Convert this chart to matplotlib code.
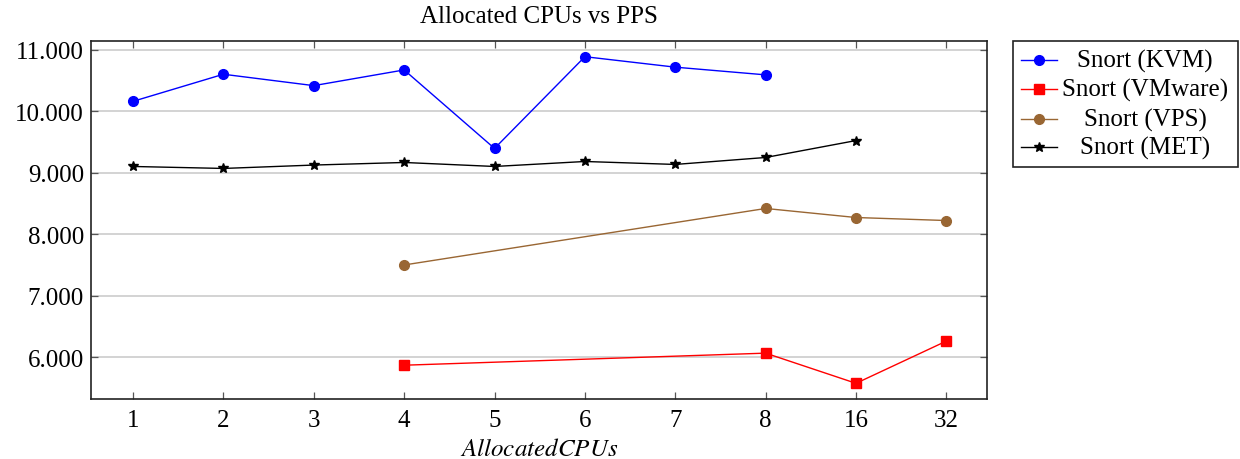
import matplotlib
matplotlib.use("Agg")
import matplotlib.pyplot as plt
from matplotlib.lines import Line2D
from matplotlib.patches import Rectangle
import numpy as np

# ---- data ----
cpu_labels = ["1", "2", "3", "4", "5", "6", "7", "8", "16", "32"]
kvm_x = ["1", "2", "3", "4", "5", "6", "7", "8"]
kvm_y = [10160, 10600, 10415, 10670, 9395, 10885, 10715, 10590]
vmware_x = ["4", "8", "16", "32"]
vmware_y = [5874, 6070, 5580, 6266]
vps_x = ["4", "8", "16", "32"]
vps_y = [7502, 8420, 8273, 8224]
met_x = ["1", "2", "3", "4", "5", "6", "7", "8", "16"]
met_y = [9102, 9070, 9125, 9167, 9102, 9183, 9135, 9248, 9523]
y_ticks = [6000, 7000, 8000, 9000, 10000, 11000]
y_tick_labels = ["6.000", "7.000", "8.000", "9.000", "10.000", "11.000"]

plt.rcParams["font.family"] = ["Liberation Serif", "DejaVu Serif"]
plt.rcParams["mathtext.fontset"] = "stix"

FS = 18

fig = plt.figure(figsize=(12.4, 4.6), dpi=100)
ax = fig.add_axes([0.0734, 0.1304, 0.7226, 0.7783])

pos = {lab: i + 1 for i, lab in enumerate(cpu_labels)}

series = [
    ("Snort (KVM)", kvm_x, kvm_y, "#0000ff", "o", 7),
    ("Snort (VMware)", vmware_x, vmware_y, "#ff0000", "s", 6.5),
    ("Snort (VPS)", vps_x, vps_y, "#996633", "o", 7),
    ("Snort (MET)", met_x, met_y, "#000000", "*", 7),
]
for name, xs, ys, col, mk, ms in series:
    ax.plot([pos[x] for x in xs], ys, color=col, marker=mk, markersize=ms,
            linewidth=1.0, label=name, zorder=3)

ax.set_xlim(0.535, 10.45)
ax.set_ylim(5325, 11140)
ax.set_xticks(range(1, len(cpu_labels) + 1))
ax.set_xticklabels(cpu_labels, fontsize=FS)
ax.set_yticks(y_ticks)
ax.set_yticklabels(y_tick_labels, fontsize=FS)
ax.tick_params(axis="both", direction="in", length=5, width=0.9, color="#555555",
               top=True, right=True)
ax.tick_params(axis="x", pad=7)
ax.tick_params(axis="y", pad=5)
ax.grid(axis="y", color="#cccccc", linewidth=1.2, zorder=0)
for s in ax.spines.values():
    s.set_linewidth(1.2)
    s.set_color("#222222")

ax.set_title("Allocated CPUs vs PPS", fontsize=FS, pad=14)
ax.set_xlabel("$AllocatedCPUs$", fontsize=FS, labelpad=5)

# ---- legend (pgfplots style: handles left, centered text) ----
W, H = 1240, 460
def fx(px):
    return px / W
def fy(py):
    return 1 - py / H

fig.patches.append(Rectangle((fx(1013), fy(168)), fx(1238) - fx(1013), fy(42) - fy(168),
                             transform=fig.transFigure, fill=False, edgecolor="#222222",
                             linewidth=1.2))
row_y = [61, 90, 120, 148]
for (name, xs, ys, col, mk, ms), ry in zip(series, row_y):
    fig.lines.append(Line2D([fx(1021), fx(1057)], [fy(ry), fy(ry)], transform=fig.transFigure,
                            color=col, linewidth=1.0))
    fig.lines.append(Line2D([fx(1039)], [fy(ry)], transform=fig.transFigure, color=col,
                            marker=mk, markersize=ms, linestyle="none"))
    fig.text(fx(1145), fy(ry), name, fontsize=FS, ha="center", va="center")

fig.savefig("out.png", dpi=100)
